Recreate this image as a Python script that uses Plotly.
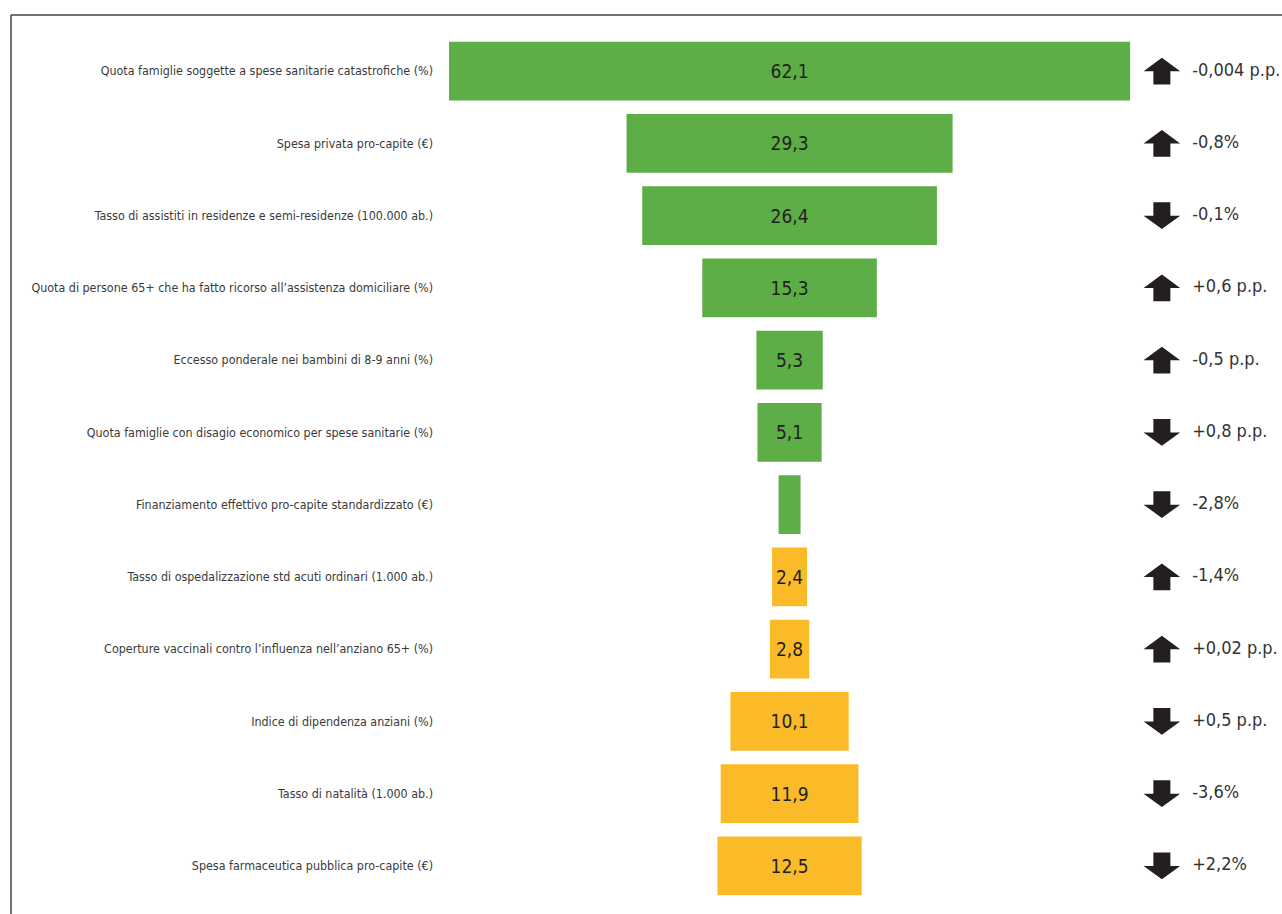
import plotly.graph_objects as go

indicators = [
    "Quota famiglie soggette a spese sanitarie catastrofiche (%)",
    "Spesa privata pro-capite (€)",
    "Tasso di assistiti in residenze e semi-residenze (100.000 ab.)",
    "Quota di persone 65+ che ha fatto ricorso all’assistenza domiciliare (%)",
    "Eccesso ponderale nei bambini di 8-9 anni (%)",
    "Quota famiglie con disagio economico per spese sanitarie (%)",
    "Finanziamento effettivo pro-capite standardizzato (€)",
    "Tasso di ospedalizzazione std acuti ordinari (1.000 ab.)",
    "Coperture vaccinali contro l’influenza nell’anziano 65+ (%)",
    "Indice di dipendenza anziani (%)",
    "Tasso di natalità (1.000 ab.)",
    "Spesa farmaceutica pubblica pro-capite (€)",
]
values = [62.1, 29.3, 26.4, 15.3, 5.3, 5.1, 1.2, 2.4, 2.8, 10.1, 11.9, 12.5]
value_labels = ["62,1", "29,3", "26,4", "15,3", "5,3", "5,1", "", "2,4", "2,8", "10,1", "11,9", "12,5"]
groups = ["A"] * 7 + ["B"] * 5
directions = ["up", "up", "down", "up", "up", "down", "down", "up", "up", "down", "down", "down"]
changes = ["-0,004 p.p.", "-0,8%", "-0,1%", "+0,6 p.p.", "-0,5 p.p.", "+0,8 p.p.",
           "-2,8%", "-1,4%", "+0,02 p.p.", "+0,5 p.p.", "-3,6%", "+2,2%"]

GROUP_COLORS = {"A": "#5DAE46", "B": "#FBBB28"}
MIN_PAD = 0.83          # minimum visual width added to every bar
ARROW_X = 34.4          # x position of the arrow column (axis units)
TEXT_X = 37.2           # x position of the change labels (axis units)
FONT = "Liberation Sans Narrow, DejaVu Sans Condensed, Arial Narrow, sans-serif"

# block-arrow outline in pixels (x right, y up), pointing up
ARROW_TEMPLATE = [(0, 13.3), (18.3, 0), (8.5, 0), (8.5, -13.3),
                  (-8.5, -13.3), (-8.5, 0), (-18.3, 0)]


def arrow_path(direction):
    sign = 1 if direction == "up" else -1
    pts = [(px, sign * py) for px, py in ARROW_TEMPLATE]
    return "M" + " L".join(f"{px},{py}" for px, py in pts) + " Z"


widths = [v + MIN_PAD for v in values]
bases = [-w / 2 for w in widths]

fig = go.Figure()
fig.add_trace(go.Bar(
    y=indicators, x=widths, base=bases, orientation="h",
    marker=dict(color=[GROUP_COLORS[g] for g in groups], line=dict(width=0)),
    text=value_labels, textposition="inside", insidetextanchor="middle",
    textangle=0, textfont=dict(family=FONT, size=19, color="#231f20"),
    hoverinfo="skip", showlegend=False,
))
fig.add_trace(go.Scatter(
    y=indicators, x=[TEXT_X] * len(indicators), mode="text",
    text=changes, textposition="middle right",
    textfont=dict(family=FONT, size=18, color="#333333"),
    hoverinfo="skip", showlegend=False,
))

for i, d in enumerate(directions):
    fig.add_shape(
        type="path", xref="x", yref="y",
        xsizemode="pixel", ysizemode="pixel",
        xanchor=ARROW_X, yanchor=i,
        path=arrow_path(d),
        fillcolor="#231f20", line=dict(width=0),
    )

# outer frame (left and top edges)
fig.add_shape(type="line", xref="paper", yref="paper", x0=-0.5095, x1=1.01, y0=1.023, y1=1.023,
              line=dict(color="#444444", width=1.5))
fig.add_shape(type="line", xref="paper", yref="paper", x0=-0.5095, x1=-0.5095, y0=1.023, y1=-0.05,
              line=dict(color="#444444", width=1.5))

n = len(indicators)
fig.update_layout(
    width=1282, height=914,
    margin=dict(l=440, r=0, t=35, b=12),
    paper_bgcolor="white", plot_bgcolor="white",
    bargap=0.19,
    uniformtext=dict(minsize=17, mode="show"),
    xaxis=dict(range=[-32.3, 45.5], visible=False, fixedrange=True),
    yaxis=dict(range=[n - 0.5, -0.5], showgrid=False, zeroline=False, showline=False,
               ticks="", ticklabelstandoff=6, automargin=False, fixedrange=True,
               tickfont=dict(family=FONT, size=12.4, color="#3a3a3a")),
    font=dict(family=FONT),
)

fig.write_html("out.html", config={"displayModeBar": False},
               post_script="document.body.style.margin='0';document.body.style.overflow='hidden';")
